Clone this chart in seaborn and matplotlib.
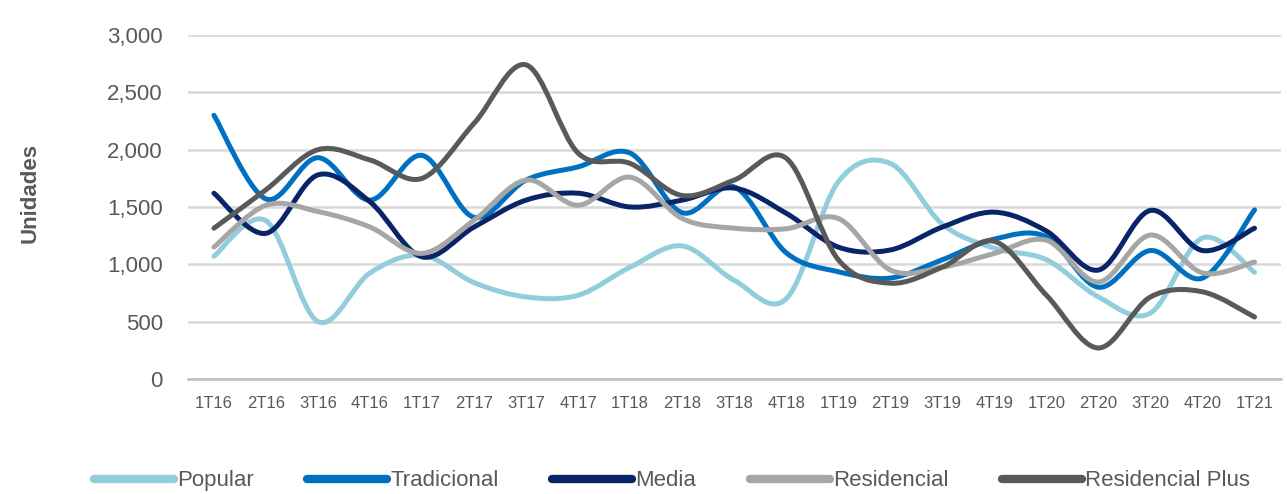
import matplotlib
matplotlib.use("Agg")
import matplotlib.pyplot as plt
from matplotlib.path import Path
from matplotlib.patches import PathPatch
from matplotlib.lines import Line2D
from matplotlib.ticker import FuncFormatter, FixedLocator
import numpy as np
import pandas as pd
import seaborn as sns

quarters = ["1T16", "2T16", "3T16", "4T16", "1T17", "2T17", "3T17", "4T17", "1T18", "2T18", "3T18",
            "4T18", "1T19", "2T19", "3T19", "4T19", "1T20", "2T20", "3T20", "4T20", "1T21"]
popular = [1070, 1380, 500, 925, 1080, 840, 715, 730, 975, 1160, 860, 700, 1720, 1880, 1350, 1140,
           1040, 715, 575, 1230, 930]
tradicional = [2300, 1570, 1930, 1560, 1950, 1410, 1735, 1850, 1970, 1450, 1675, 1100, 935, 880,
               1040, 1220, 1240, 800, 1120, 880, 1475]
media = [1620, 1270, 1780, 1545, 1065, 1325, 1560, 1620, 1500, 1560, 1665, 1445, 1150, 1125,
         1325, 1455, 1290, 950, 1470, 1120, 1315]
residencial = [1150, 1515, 1460, 1325, 1095, 1385, 1735, 1515, 1760, 1400, 1315, 1310, 1400, 950,
               975, 1095, 1210, 845, 1255, 925, 1020]
residencial_plus = [1315, 1650, 2000, 1910, 1750, 2230, 2740, 1970, 1880, 1600, 1735, 1925, 1040,
                    835, 975, 1200, 730, 270, 715, 760, 540]

series = {"Popular": popular, "Tradicional": tradicional, "Media": media,
          "Residencial": residencial, "Residencial Plus": residencial_plus}
colors = {"Popular": "#92CDDC", "Tradicional": "#0070C0", "Media": "#0A2468",
          "Residencial": "#A6A6A6", "Residencial Plus": "#595959"}

df = pd.DataFrame([(i, q, name, v) for name, vals in series.items()
                   for i, (q, v) in enumerate(zip(quarters, vals))],
                  columns=["idx", "trimestre", "tipo", "unidades"])

sns.set_theme(style="white")
plt.rcParams["font.family"] = ["Liberation Sans", "DejaVu Sans"]

fig = plt.figure(figsize=(12.87, 4.94), dpi=100)
ax = fig.add_axes([0.146, 0.233, 0.849, 0.696])

sns.lineplot(data=df, x="idx", y="unidades", hue="tipo", palette=colors, ax=ax,
             legend=False, linewidth=3.5)


def smooth_path(x, y):
    # Catmull-Rom style bezier through the data points (Excel "smoothed line")
    pts = np.column_stack([x, y]).astype(float)
    verts = [pts[0]]
    codes = [Path.MOVETO]
    n = len(pts)
    for i in range(n - 1):
        p0 = pts[i - 1] if i > 0 else pts[i]
        p1, p2 = pts[i], pts[i + 1]
        p3 = pts[i + 2] if i + 2 < n else pts[i + 1]
        c1 = p1 + (p2 - p0) / 6
        c2 = p2 - (p3 - p1) / 6
        verts += [c1, c2, p2]
        codes += [Path.CURVE4] * 3
    return Path(verts, codes)


for line in list(ax.lines):
    x, y = line.get_xdata(), line.get_ydata()
    patch = PathPatch(smooth_path(x, y), facecolor="none", edgecolor=line.get_color(),
                      linewidth=3.6, capstyle="round", joinstyle="round")
    ax.add_patch(patch)
    line.set_visible(False)

ax.set_xlim(-0.5, len(quarters) - 0.5)
ax.set_ylim(0, 3000)
ax.set_yticks(range(0, 3001, 500))
ax.yaxis.set_major_formatter(FuncFormatter(lambda v, p: f"{int(v):,}"))
ax.grid(axis="y", color="#D9D9D9", linewidth=1.8)
ax.set_axisbelow(True)

ax.set_xticks(range(len(quarters)))
ax.set_xticklabels(quarters)
ax.xaxis.set_minor_locator(FixedLocator(np.arange(-0.5, len(quarters), 1)))
ax.tick_params(axis="x", which="major", length=0, labelsize=12, colors="#595959", pad=12)
ax.tick_params(axis="x", which="minor", length=7, width=1.8, color="#BFBFBF", direction="out")
ax.tick_params(axis="y", length=0, labelsize=16, colors="#595959", pad=18)

for s in ["top", "right", "left"]:
    ax.spines[s].set_visible(False)
ax.spines["bottom"].set_color("#BFBFBF")
ax.spines["bottom"].set_linewidth(1.8)

ax.set_xlabel("")
ax.set_ylabel("Unidades", fontsize=16, fontweight="bold", color="#595959")
ax.yaxis.set_label_coords(-0.135, 0.54)

handles = [Line2D([], [], color=colors[k], linewidth=6) for k in series]
fig.legend(handles, list(series.keys()), loc="lower center", bbox_to_anchor=(0.522, -0.035),
           ncol=5, frameon=False, fontsize=16, handlelength=3.6, handletextpad=0.15,
           columnspacing=2.4, labelcolor="#595959")

fig.savefig("out.png", dpi=100)
